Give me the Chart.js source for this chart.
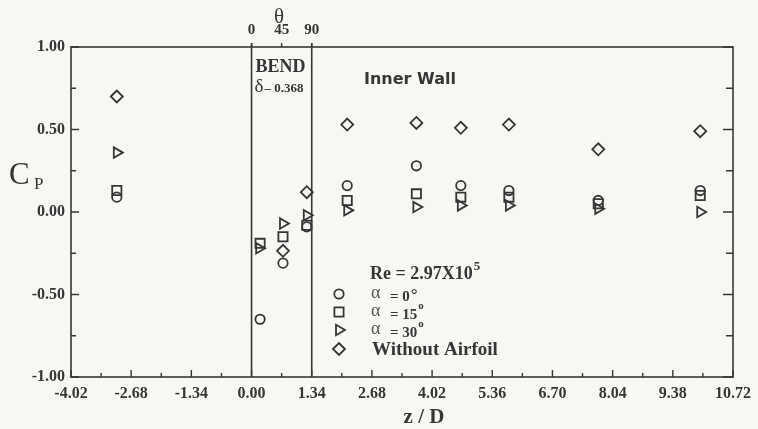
<!DOCTYPE html>
<html>
<head>
<meta charset="utf-8">
<script src="https://cdn.jsdelivr.net/npm/chart.js@4.4.0/dist/chart.umd.min.js"></script>
<style>
  html, body { margin: 0; padding: 0; background: #f7f7f4; }
  #wrap { width: 758px; height: 429px; }
</style>
</head>
<body>
<div id="wrap"><canvas id="cp" width="758" height="429"></canvas></div>
<script>
// z/D stations and measured Cp on the inner wall
const zAlpha0 = [-3.0, 0.19, 0.70, 1.23, 2.13, 3.67, 4.66, 5.73, 7.72, 9.99];
const cpAlpha0 = [0.09, -0.65, -0.31, -0.09, 0.16, 0.28, 0.16, 0.13, 0.07, 0.13];

const zAlpha15 = [-3.0, 0.19, 0.70, 1.23, 2.13, 3.67, 4.66, 5.73, 7.72, 9.99];
const cpAlpha15 = [0.13, -0.19, -0.15, -0.08, 0.07, 0.11, 0.09, 0.09, 0.05, 0.10];

const zAlpha30 = [-3.0, 0.17, 0.70, 1.23, 2.13, 3.67, 4.66, 5.73, 7.72, 9.99];
const cpAlpha30 = [0.36, -0.22, -0.07, -0.02, 0.01, 0.03, 0.04, 0.04, 0.02, 0.00];

const zNoFoil = [-3.0, 0.70, 1.23, 2.13, 3.67, 4.66, 5.73, 7.72, 9.99];
const cpNoFoil = [0.70, -0.235, 0.12, 0.53, 0.54, 0.51, 0.53, 0.38, 0.49];

const zTicks = [-4.02, -2.68, -1.34, 0.00, 1.34, 2.68, 4.02, 5.36, 6.70, 8.04, 9.38, 10.72];
const cpTicks = [-1.0, -0.5, 0.0, 0.5, 1.0];
const thetaPos = [0, 0.67, 1.34];
const thetaLabels = ["0", "45", "90"];
const bendEdges = [0, 1.34];

const ink = "#363636";
const serif = "'Liberation Serif', 'DejaVu Serif', serif";
const sans = "'DejaVu Sans', sans-serif";

const pts = (xs, ys) => xs.map((x, i) => ({ x: x, y: ys[i] }));

function mkSet(label, xs, ys, style, radius, rot) {
  return {
    label: label,
    data: pts(xs, ys),
    showLine: false,
    pointStyle: style,
    pointRadius: radius,
    pointRotation: rot || 0,
    pointBorderWidth: 1.8,
    pointBorderColor: ink,
    pointBackgroundColor: "rgba(0,0,0,0)",
    borderColor: ink,
    backgroundColor: "rgba(0,0,0,0)"
  };
}

const decor = {
  id: "decor",
  afterDraw(chart) {
    const ctx = chart.ctx;
    const a = chart.chartArea;
    const sx = chart.scales.x, sy = chart.scales.y;
    ctx.save();
    ctx.strokeStyle = ink;
    ctx.fillStyle = ink;
    ctx.lineWidth = 1.6;
    ctx.strokeRect(a.left, a.top, a.right - a.left, a.bottom - a.top);

    // inward tick marks
    ctx.lineWidth = 1.4;
    ctx.beginPath();
    zTicks.forEach((v, i) => {
      const p = sx.getPixelForValue(v);
      ctx.moveTo(p, a.bottom); ctx.lineTo(p, a.bottom - 7);
      if (i < zTicks.length - 1) {
        const m = sx.getPixelForValue(v + 0.67);
        ctx.moveTo(m, a.bottom); ctx.lineTo(m, a.bottom - 4);
      }
    });
    cpTicks.forEach((v, i) => {
      const p = sy.getPixelForValue(v);
      ctx.moveTo(a.left, p); ctx.lineTo(a.left + 8, p);
      ctx.moveTo(a.right, p); ctx.lineTo(a.right - 10, p);
      if (i < cpTicks.length - 1) {
        const m = sy.getPixelForValue(v + 0.25);
        ctx.moveTo(a.left, m); ctx.lineTo(a.left + 5, m);
        ctx.moveTo(a.right, m); ctx.lineTo(a.right - 7, m);
      }
    });
    thetaPos.forEach(v => {
      const p = sx.getPixelForValue(v);
      ctx.moveTo(p, a.top); ctx.lineTo(p, a.top - 4);
    });
    ctx.stroke();

    // bend section
    ctx.lineWidth = 1.6;
    ctx.beginPath();
    bendEdges.forEach(v => {
      const p = sx.getPixelForValue(v);
      ctx.moveTo(p, a.top - 4); ctx.lineTo(p, a.bottom);
    });
    ctx.stroke();

    const x0 = sx.getPixelForValue(0);
    ctx.textAlign = "left";
    ctx.textBaseline = "alphabetic";
    ctx.font = "bold 18px " + serif;
    ctx.fillText("BEND", x0 + 4, 72);
    ctx.font = "19px " + serif;
    ctx.fillText("δ", x0 + 3, 92);
    ctx.font = "bold 13px " + serif;
    ctx.fillText("– 0.368", x0 + 13, 92);

    ctx.font = "bold 16px " + sans;
    ctx.fillText("Inner Wall", 364, 84);

    // axis titles
    ctx.font = "21px " + serif;
    ctx.textAlign = "center";
    ctx.fillText("θ", 279, 23);
    ctx.font = "bold 21px " + serif;
    ctx.fillText("z / D", 424, 423);
    ctx.textAlign = "left";
    ctx.font = "31px " + serif;
    ctx.fillText("C", 9, 184);
    ctx.font = "17px " + serif;
    ctx.fillText("P", 34, 189);

    // legend
    ctx.font = "bold 18px " + serif;
    const re = "Re = 2.97X10";
    ctx.fillText(re, 370, 279);
    const rw = ctx.measureText(re).width;
    ctx.font = "bold 13px " + serif;
    ctx.fillText("5", 370 + rw + 1, 270);

    const rows = [
      { y: 294, txt: "= 0", sup: "°", supFont: "bold 17px " },
      { y: 312, txt: "= 15", sup: "o", supFont: "bold 11px " },
      { y: 330, txt: "= 30", sup: "o", supFont: "bold 11px " },
      { y: 349, txt: null }
    ];
    chart.data.datasets.forEach((ds, i) => {
      const r = rows[i];
      ctx.lineWidth = 1.8;
      ctx.strokeStyle = ink;
      ctx.fillStyle = "rgba(0,0,0,0)";
      Chart.helpers.drawPoint(ctx, {
        pointStyle: ds.pointStyle,
        rotation: ds.pointRotation,
        radius: ds.pointRadius,
        borderWidth: 1.8
      }, 339, r.y);
      ctx.fillStyle = ink;
      if (r.txt) {
        ctx.font = "18px " + serif;
        ctx.fillStyle = "#555";
        ctx.fillText("α", 371, r.y + 4);
        ctx.fillStyle = ink;
        ctx.font = "bold 15px " + serif;
        ctx.fillText(r.txt, 390, r.y + 7);
        const w = ctx.measureText(r.txt).width;
        ctx.font = r.supFont + serif;
        ctx.fillText(r.sup, 390 + w + 1, r.sup === "°" ? r.y + 6 : r.y - 3);
      } else {
        ctx.font = "bold 19px " + serif;
        ctx.fillText(ds.label, 372, r.y + 6);
      }
    });
    ctx.restore();
  }
};

new Chart(document.getElementById("cp"), {
  type: "scatter",
  data: {
    datasets: [
      mkSet("α = 0°", zAlpha0, cpAlpha0, "circle", 4.7),
      mkSet("α = 15°", zAlpha15, cpAlpha15, "rect", 6.5),
      mkSet("α = 30°", zAlpha30, cpAlpha30, "triangle", 6, 90),
      mkSet("Without Airfoil", zNoFoil, cpNoFoil, "rectRot", 6)
    ]
  },
  options: {
    responsive: false,
    animation: false,
    layout: { padding: 0 },
    plugins: { legend: { display: false }, tooltip: { enabled: false } },
    scales: {
      x: {
        type: "linear", position: "bottom", min: -4.02, max: 10.72,
        afterBuildTicks: s => { s.ticks = zTicks.map(v => ({ value: v })); },
        afterFit: s => { s.height = 52; },
        grid: { display: false, drawTicks: false },
        border: { display: false },
        ticks: {
          padding: 7, color: ink, autoSkip: false, maxRotation: 0,
          font: { family: serif, size: 16, weight: "bold" },
          callback: v => v.toFixed(2)
        }
      },
      theta: {
        type: "linear", position: "top", min: -4.02, max: 10.72,
        afterBuildTicks: s => { s.ticks = thetaPos.map(v => ({ value: v })); },
        afterFit: s => { s.height = 47; },
        grid: { display: false, drawTicks: false },
        border: { display: false },
        ticks: {
          padding: 8, color: ink, autoSkip: false, maxRotation: 0,
          font: { family: serif, size: 15, weight: "bold" },
          callback: (v, i) => thetaLabels[i]
        }
      },
      y: {
        type: "linear", position: "left", min: -1, max: 1,
        afterBuildTicks: s => { s.ticks = cpTicks.map(v => ({ value: v })); },
        afterFit: s => { s.width = 71; },
        grid: { display: false, drawTicks: false },
        border: { display: false },
        ticks: {
          padding: 6, color: ink,
          font: { family: serif, size: 16, weight: "bold" },
          callback: v => v.toFixed(2)
        }
      },
      y2: {
        type: "linear", position: "right", min: -1, max: 1,
        afterFit: s => { s.width = 21; },
        grid: { display: false, drawTicks: false },
        border: { display: false },
        ticks: { display: false }
      }
    }
  },
  plugins: [decor]
});
</script>
</body>
</html>
